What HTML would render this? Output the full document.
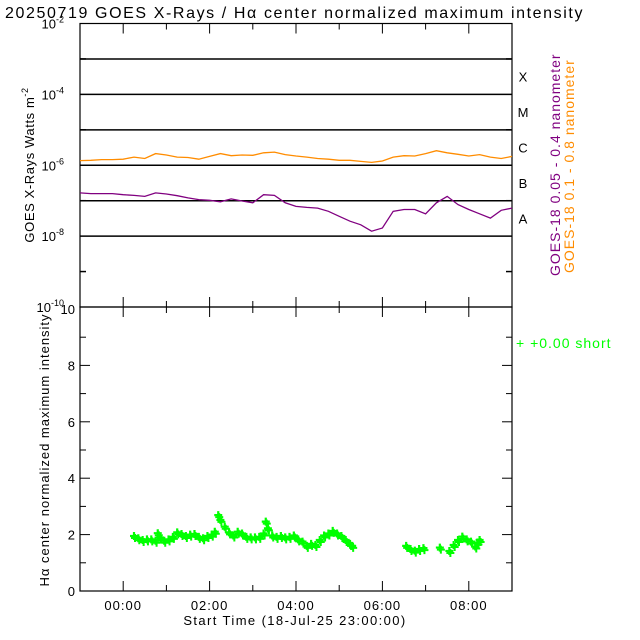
<!DOCTYPE html>
<html><head><meta charset="utf-8"><style>
body{margin:0;background:#fff;}
svg{display:block;font-family:"Liberation Sans",sans-serif;}
</style></head><body>
<svg id="c" width="640" height="640" viewBox="0 0 640 640">
<rect width="640" height="640" fill="#fff"/>
<text x="5" y="18" font-size="16" letter-spacing="1.6" fill="#000">20250719 GOES X-Rays / Hα center normalized maximum intensity</text>
<g id="topPanel"></g>
<g id="botPanel"></g>
<text transform="translate(34,165) rotate(-90)" text-anchor="middle" font-size="13" letter-spacing="0.6">GOES X-Rays Watts m<tspan dy="-6" font-size="9">-2</tspan></text>
<text transform="translate(49,450) rotate(-90)" text-anchor="middle" font-size="13" letter-spacing="1">Hα center normalized maximum intensity</text>
<text x="295" y="625" text-anchor="middle" font-size="13" letter-spacing="1.4">Start Time (18-Jul-25 23:00:00)</text>
<text transform="translate(560,276) rotate(-90)" font-size="14" letter-spacing="1" fill="#800080">GOES-18 0.05 - 0.4 nanometer</text>
<text transform="translate(574,273) rotate(-90)" font-size="14" letter-spacing="1" fill="#ff8c00">GOES-18  0.1  - 0.8 nanometer</text>
<text x="516" y="348" font-size="14" letter-spacing="1" fill="#00ff00">+  +0.00 short</text>
</svg>
<script>
const hoursT = [-1,-0.75,-0.5,-0.25,0,0.25,0.5,0.75,1,1.25,1.5,1.75,2,2.25,2.5,2.75,3,3.25,3.5,3.75,4,4.25,4.5,4.75,5,5.25,5.5,5.75,6,6.25,6.5,6.75,7,7.25,7.5,7.75,8,8.25,8.5,8.75,9];
const shortLog = [-5.87,-5.86,-5.84,-5.84,-5.83,-5.77,-5.81,-5.67,-5.71,-5.77,-5.78,-5.83,-5.75,-5.67,-5.73,-5.71,-5.72,-5.65,-5.63,-5.70,-5.74,-5.77,-5.81,-5.83,-5.86,-5.86,-5.89,-5.92,-5.88,-5.77,-5.73,-5.74,-5.67,-5.59,-5.65,-5.69,-5.74,-5.70,-5.77,-5.81,-5.75];
const longLog = [-6.78,-6.80,-6.80,-6.80,-6.83,-6.85,-6.88,-6.78,-6.81,-6.86,-6.92,-6.97,-6.99,-7.03,-6.95,-7.01,-7.06,-6.83,-6.85,-7.06,-7.16,-7.19,-7.21,-7.30,-7.44,-7.58,-7.68,-7.86,-7.77,-7.30,-7.25,-7.25,-7.37,-7.06,-6.88,-7.11,-7.25,-7.37,-7.49,-7.27,-7.21];
const haHours = [0.25,0.35,0.45,0.55,0.65,0.75,0.8,0.85,0.95,1.05,1.15,1.25,1.35,1.45,1.55,1.65,1.75,1.85,1.95,2.05,2.12,2.2,2.25,2.35,2.45,2.55,2.65,2.75,2.85,2.95,3.05,3.15,3.25,3.3,3.35,3.45,3.55,3.65,3.75,3.85,3.95,4.05,4.15,4.25,4.35,4.45,4.55,4.65,4.75,4.85,4.95,5.05,5.15,5.25,5.3,6.55,6.65,6.75,6.85,6.95,7.33,7.55,7.65,7.75,7.85,7.95,8.05,8.15,8.2,8.25];
const haVals = [1.95,1.87,1.81,1.83,1.83,1.78,2.05,1.90,1.78,1.83,1.92,2.08,2.02,1.95,2.0,2.02,1.92,1.87,1.95,2.0,2.1,2.69,2.52,2.28,2.08,1.97,2.1,2.04,1.92,1.90,1.90,1.92,2.04,2.46,2.22,1.97,1.92,1.95,1.90,1.92,1.97,1.83,1.75,1.60,1.67,1.63,1.81,1.97,2.04,2.13,2.04,1.95,1.81,1.67,1.60,1.60,1.49,1.43,1.49,1.52,1.54,1.42,1.63,1.81,1.93,1.83,1.75,1.58,1.72,1.81];
const xTickLabels = ['00:00','02:00','04:00','06:00','08:00'];
const xTickHours = [0,2,4,6,8];
const yTopExps = [-2,-4,-6,-8,-10];
const yBotTicks = [0,2,4,6,8,10];
const flareClasses = ['X','M','C','B','A'];

const NS='http://www.w3.org/2000/svg';
const L=80,R=512,T1=23.5,B1=307,B2=591,T2=309;
const xs=h=>L+(h+1)*(R-L)/10;
const yT=lg=>T1+(-2-lg)*(B1-T1)/8;
const yB=v=>B2-v*(B2-T2)/10;
function mk(p,tag,at){const el=document.createElementNS(NS,tag);for(const k in at)el.setAttribute(k,at[k]);p.appendChild(el);return el;}
const topG=document.getElementById('topPanel'),botG=document.getElementById('botPanel');
let e;

e=mk(topG,'rect',{x:L,y:T1,width:R-L,height:B1-T1,fill:'none',stroke:'#000','stroke-width':1.2});


for(let lg=-3;lg>=-8;lg--){
  e=mk(topG,'line',{x1:L,x2:R,y1:yT(lg),y2:yT(lg),stroke:'#000','stroke-width':1.5});
  
  
}
for(let lg=-3;lg>=-9;lg-=2){
  [[L,L+6],[R,R-6]].forEach(([a,b])=>{
    e=mk(topG,'line',{x1:a,x2:b,y1:yT(lg),y2:yT(lg),stroke:'#000','stroke-width':1.5});
    
    
  });
}
yTopExps.forEach(ex=>{
  e=mk(topG,'text',{x:64,y:yT(ex)+5,'text-anchor':'end','font-size':13});
  
  
  e.innerHTML='10<tspan dy="-6" font-size="9">'+ex+'</tspan>';
});
flareClasses.forEach((c,i)=>{
  e=mk(topG,'text',{x:523,y:(yT(-3-i)+yT(-4-i))/2+5,'text-anchor':'middle','font-size':13});
  
  
  e.textContent=c;
});
for(let h=0;h<=9;h++){
  const len=h%2==0?10:6;
  [[B1,B1-len],[T1,T1+len]].forEach(([a,b])=>{
    e=mk(topG,'line',{x1:xs(h),x2:xs(h),y1:a,y2:b,stroke:'#000'});
    
    
  });
}
function series(vals,color,name){
  const d=vals.map((v,i)=>(i?'L':'M')+xs(hoursT[i]).toFixed(1)+','+yT(v).toFixed(1)).join('');
  e=mk(topG,'path',{d:d,fill:'none',stroke:color,'stroke-width':1.3});
  
  
}
series(shortLog,'#ff8c00','xray-short-line');
series(longLog,'#800080','xray-long-line');

e=mk(botG,'rect',{x:L,y:B1,width:R-L,height:B2-B1,fill:'none',stroke:'#000','stroke-width':1.2});


for(let v=1;v<10;v++){
  const len=v%2==0?10:6;
  [[L,L+len],[R,R-len]].forEach(([a,b])=>{
    e=mk(botG,'line',{x1:a,x2:b,y1:yB(v),y2:yB(v),stroke:'#000'});
    
    
  });
}
yBotTicks.forEach(v=>{
  e=mk(botG,'text',{x:75,y:yB(v)+5,'text-anchor':'end','font-size':13});
  
  
  e.textContent=v;
});
for(let h=0;h<=9;h++){
  const len=h%2==0?10:6;
  [[B2,B2-len],[B1,B1+len]].forEach(([a,b])=>{
    e=mk(botG,'line',{x1:xs(h),x2:xs(h),y1:a,y2:b,stroke:'#000'});
    
    
  });
}
xTickHours.forEach((h,i)=>{
  e=mk(botG,'text',{x:xs(h),y:610,'text-anchor':'middle','font-size':13,'letter-spacing':1});
  
  
  e.textContent=xTickLabels[i];
});
haVals.forEach((v,i)=>{
  const x=xs(haHours[i]),y=yB(v);
  e=mk(botG,'path',{d:`M${x-4},${y}H${x+4}M${x},${y-4}V${y+4}`,stroke:'#00ff00','stroke-width':2.2,fill:'none'});
  
  
  e=mk(botG,'path',{d:`M${x-3},${y+2}H${x+5}M${x+1},${y-2}V${y+6}`,stroke:'#00ff00','stroke-width':2,fill:'none'});
  
  
});
</script>
</body></html>
